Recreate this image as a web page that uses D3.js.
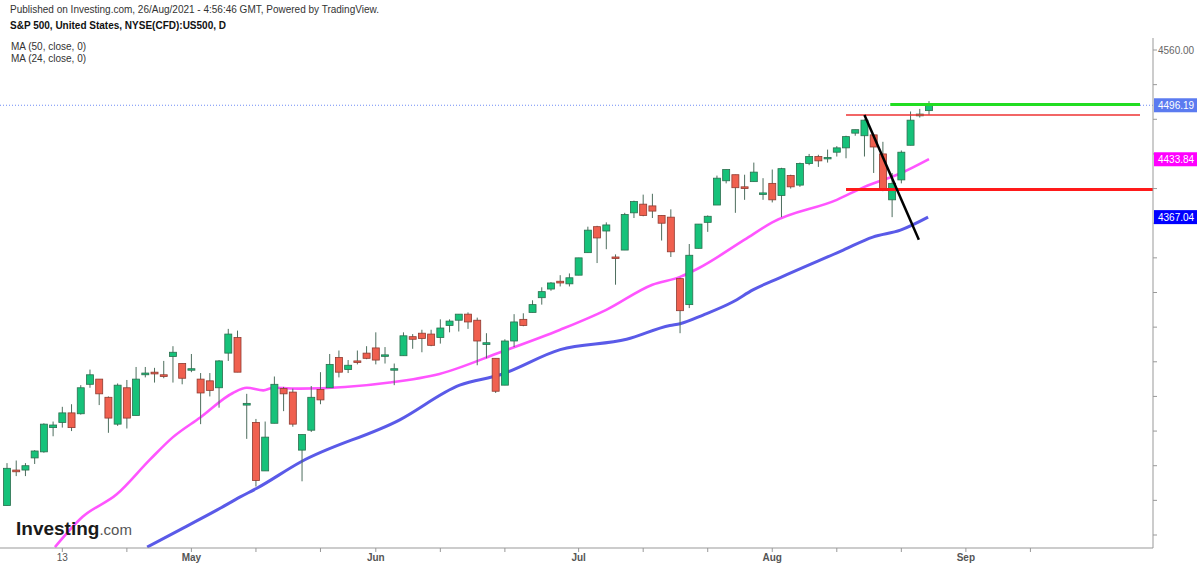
<!DOCTYPE html>
<html><head><meta charset="utf-8">
<script src="https://cdn.jsdelivr.net/npm/d3@7"></script>
<style>body{margin:0;background:#fff}svg{display:block;font-family:"Liberation Sans",Arial,sans-serif}</style>
</head><body><svg id="c" width="1200" height="566"></svg>
<script>
// daily S&P 500 candles, Apr 5 .. Aug 25 2021 (trading days)
const opens  = [4034,4075,4075,4089,4096,4124,4130,4141,4140,4174,4180,4159,4128,4170,4138,4185,4188,4185,4206,4198,
                4191,4180,4178,4170,4210,4228,4150,4130,4074,4129,4169,4165,4098,4121,4168,4170,4205,4191,4201,4210,
                4216,4207,4191,4207,4229,4233,4232,4228,4242,4248,4255,4248,4220,4204,4173,4224,4249,4257,4274,4284,4293,4290,
                4300,4326,4356,4351,4321,4329,4372,4382,4380,4369,4367,4296,4266,4331,4361,4381,4409,4416,4402,4408,4395,
                4406,4392,4415,4404,4429,4437,4435,4442,4447,4464,4461,4462,4440,4387,4410,4450,4484,4490];
const highs  = [4083,4086,4083,4098,4129,4131,4148,4151,4173,4191,4180,4160,4175,4179,4194,4194,4193,4201,4218,4198,
                4209,4187,4187,4202,4238,4236,4163,4134,4131,4183,4171,4169,4116,4172,4188,4209,4213,4202,4213,4218,
                4234,4217,4198,4234,4232,4237,4237,4249,4249,4255,4257,4251,4233,4204,4226,4255,4256,4271,4286,4292,4300,4302,
                4320,4356,4357,4361,4324,4372,4386,4393,4394,4369,4376,4297,4336,4359,4369,4415,4422,4416,4416,4430,4412,
                4422,4424,4416,4430,4440,4439,4445,4449,4461,4468,4480,4462,4454,4418,4444,4489,4492,4501];
const lows   = [4034,4068,4068,4082,4095,4114,4124,4120,4139,4170,4150,4118,4126,4123,4138,4182,4176,4181,4176,4174,
                4188,4128,4160,4147,4201,4188,4111,4056,4074,4129,4143,4125,4062,4119,4151,4170,4182,4187,4197,4203,
                4197,4198,4173,4207,4215,4211,4218,4221,4234,4235,4238,4196,4204,4164,4173,4217,4241,4257,4266,4282,4287,4287,
                4300,4326,4314,4330,4289,4329,4366,4368,4366,4340,4321,4233,4262,4331,4350,4381,4406,4372,4387,4408,4387,
                4384,4367,4400,4402,4427,4425,4430,4437,4435,4461,4437,4418,4397,4367,4406,4450,4482,4485];
const closes = [4077,4073,4080,4097,4128,4127,4141,4124,4170,4185,4163,4135,4173,4135,4180,4187,4186,4183,4211,4181,
                4192,4164,4167,4201,4232,4188,4152,4063,4113,4174,4163,4128,4116,4159,4156,4197,4188,4196,4200,4204,
                4202,4208,4192,4230,4226,4227,4219,4239,4247,4255,4246,4224,4222,4166,4224,4246,4242,4266,4281,4291,4291,4297,
                4320,4352,4343,4358,4320,4370,4385,4369,4374,4360,4327,4259,4323,4359,4368,4412,4422,4401,4400,4419,4395,
                4387,4423,4402,4429,4437,4432,4436,4447,4460,4468,4479,4448,4400,4406,4442,4479,4486,4496];

// moving averages: [bar index, value]
const ma24 = [[5.2,3986],[8.2,4021],[11.9,4047],[15.5,4087],[18,4113],[21,4136],[24.5,4164],[26,4170],[27.8,4167],
              [28.9,4170],[31.8,4169],[41.5,4176],[46.9,4186],[53.5,4211],[60,4237],[65,4260],[70,4289],[73,4298],
              [75,4308],[80,4341],[83,4361],[90,4387],[93,4402],[97,4418],[100,4434]];
const ma50 = [[15.2,3986],[19.1,4008],[22.8,4029],[25.3,4044],[27.1,4054],[31.8,4084],[42.6,4133],[49.1,4173],
              [53.5,4185],[60,4214],[67.2,4226],[71.9,4242],[73,4244],[75.5,4254],[78.7,4269],[80.9,4283],[83.8,4297],
              [90.7,4329],[93.9,4344],[96.9,4352],[99.9,4367]];

const xTickIdx   = [6,13,20,27,34,40,47,54,62,69,76,83,90,97,104,111];
const xTickLabel = {6:"13",20:"May",40:"Jun",62:"Jul",83:"Aug",104:"Sep"};
const yTicks = d3.range(4000, 4561, 40);
const priceTags = [{v:4496.19, c:"#5b7bf0"},{v:4433.84, c:"#ff00ff"},{v:4367.04, c:"#0000ff"}];

const svg = d3.select("#c");
const W = 1153, B = 548;
const x = d3.scaleLinear().domain([0, 100]).range([7, 929]);
const y = d3.scaleLinear().domain([4000, 4560]).range([535, 50]);

svg.append("text").attr("x",10).attr("y",13).attr("font-size",10).attr("fill","#333")
  .text("Published on Investing.com, 26/Aug/2021 - 4:56:46 GMT, Powered by TradingView.");
svg.append("text").attr("x",10).attr("y",29).attr("font-size",10).attr("font-weight","bold").attr("fill","#111")
  .text("S&P 500, United States, NYSE(CFD):US500, D");
svg.append("text").attr("x",11).attr("y",50).attr("font-size",10).attr("fill","#333").text("MA (50, close, 0)");
svg.append("text").attr("x",11).attr("y",62).attr("font-size",10).attr("fill","#333").text("MA (24, close, 0)");

svg.append("defs").append("clipPath").attr("id","clip")
  .append("rect").attr("x",0).attr("y",38).attr("width",W).attr("height",B-38);
const plot = svg.append("g").attr("clip-path","url(#clip)");

// last price dotted line
plot.append("line").attr("x1",0).attr("x2",W).attr("y1",y(4496.19)).attr("y2",y(4496.19))
  .attr("stroke","#6f8cf5").attr("stroke-width",1).attr("stroke-dasharray","1,2");

const line = d3.line().x(d => x(d[0])).y(d => y(d[1])).curve(d3.curveMonotoneX);
plot.append("path").attr("d", line(ma24)).attr("fill","none").attr("stroke","#ff55ff").attr("stroke-width",2.6);
plot.append("path").attr("d", line(ma50)).attr("fill","none").attr("stroke","#5a5ae8").attr("stroke-width",3);

const bars = closes.map((c, i) => ({i, o: opens[i], h: highs[i], l: lows[i], c}));
const g = plot.selectAll("g.bar").data(bars).join("g").attr("class","bar");
g.append("line").attr("x1",d=>x(d.i)).attr("x2",d=>x(d.i)).attr("y1",d=>y(d.h)).attr("y2",d=>y(d.l))
  .attr("stroke","#4e6e5e").attr("stroke-width",1);
g.append("rect").attr("x",d=>x(d.i)-3.5).attr("width",7)
  .attr("y",d=>y(Math.max(d.o,d.c))).attr("height",d=>Math.max(1.5, Math.abs(y(d.o)-y(d.c))))
  .attr("fill",d=>d.c>=d.o ? "#16c27a" : "#f0604f")
  .attr("stroke",d=>d.c>=d.o ? "#2b6e4e" : "#8e3a30").attr("stroke-width",0.8);

// annotations
plot.append("line").attr("x1",x(95.8)).attr("x2",1140).attr("y1",y(4497)).attr("y2",y(4497)).attr("stroke","#22dd22").attr("stroke-width",3);
plot.append("line").attr("x1",x(91)).attr("x2",1140).attr("y1",y(4485)).attr("y2",y(4485)).attr("stroke","#ee3333").attr("stroke-width",1.5);
plot.append("line").attr("x1",x(91)).attr("x2",W).attr("y1",y(4399)).attr("y2",y(4399)).attr("stroke","#ff1a1a").attr("stroke-width",3);
plot.append("line").attr("x1",x(93)).attr("x2",x(98.9)).attr("y1",y(4485)).attr("y2",y(4341)).attr("stroke","#000").attr("stroke-width",2.5);

// axes
svg.append("line").attr("x1",W).attr("x2",W).attr("y1",38).attr("y2",B).attr("stroke","#999");
svg.append("line").attr("x1",0).attr("x2",W).attr("y1",B).attr("y2",B).attr("stroke","#999");
svg.selectAll("line.yt").data(yTicks).join("line").attr("class","yt")
  .attr("x1",W).attr("x2",W+4).attr("y1",d=>y(d)).attr("y2",d=>y(d)).attr("stroke","#999");
svg.append("text").attr("x",W+5).attr("y",y(4560)+4).attr("font-size",10).attr("fill","#666").text("4560.00");
svg.selectAll("line.xt").data(xTickIdx).join("line").attr("class","xt")
  .attr("x1",d=>x(d)).attr("x2",d=>x(d)).attr("y1",B).attr("y2",B+4).attr("stroke","#999");
svg.selectAll("text.xl").data(xTickIdx.filter(d=>xTickLabel[d])).join("text").attr("class","xl")
  .attr("x",d=>x(d)).attr("y",B+13).attr("text-anchor","middle").attr("font-size",10).attr("fill","#555")
  .attr("font-weight",d=>xTickLabel[d]==="13"?"normal":"bold").text(d=>xTickLabel[d]);

const tag = svg.selectAll("g.tag").data(priceTags).join("g").attr("class","tag");
tag.append("rect").attr("x",W+1).attr("y",d=>y(d.v)-7).attr("width",43).attr("height",14).attr("fill",d=>d.c);
tag.append("text").attr("x",W+5).attr("y",d=>y(d.v)+4).attr("font-size",10).attr("fill","#fff").text(d=>d.v.toFixed(2));

// watermark
const wm = svg.append("text").attr("x",16).attr("y",535);
wm.append("tspan").attr("font-size",19).attr("font-weight","bold").attr("fill","#1a1a1a").text("Investing");
wm.append("tspan").attr("font-size",15).attr("fill","#555").text(".com");
</script></body></html>
